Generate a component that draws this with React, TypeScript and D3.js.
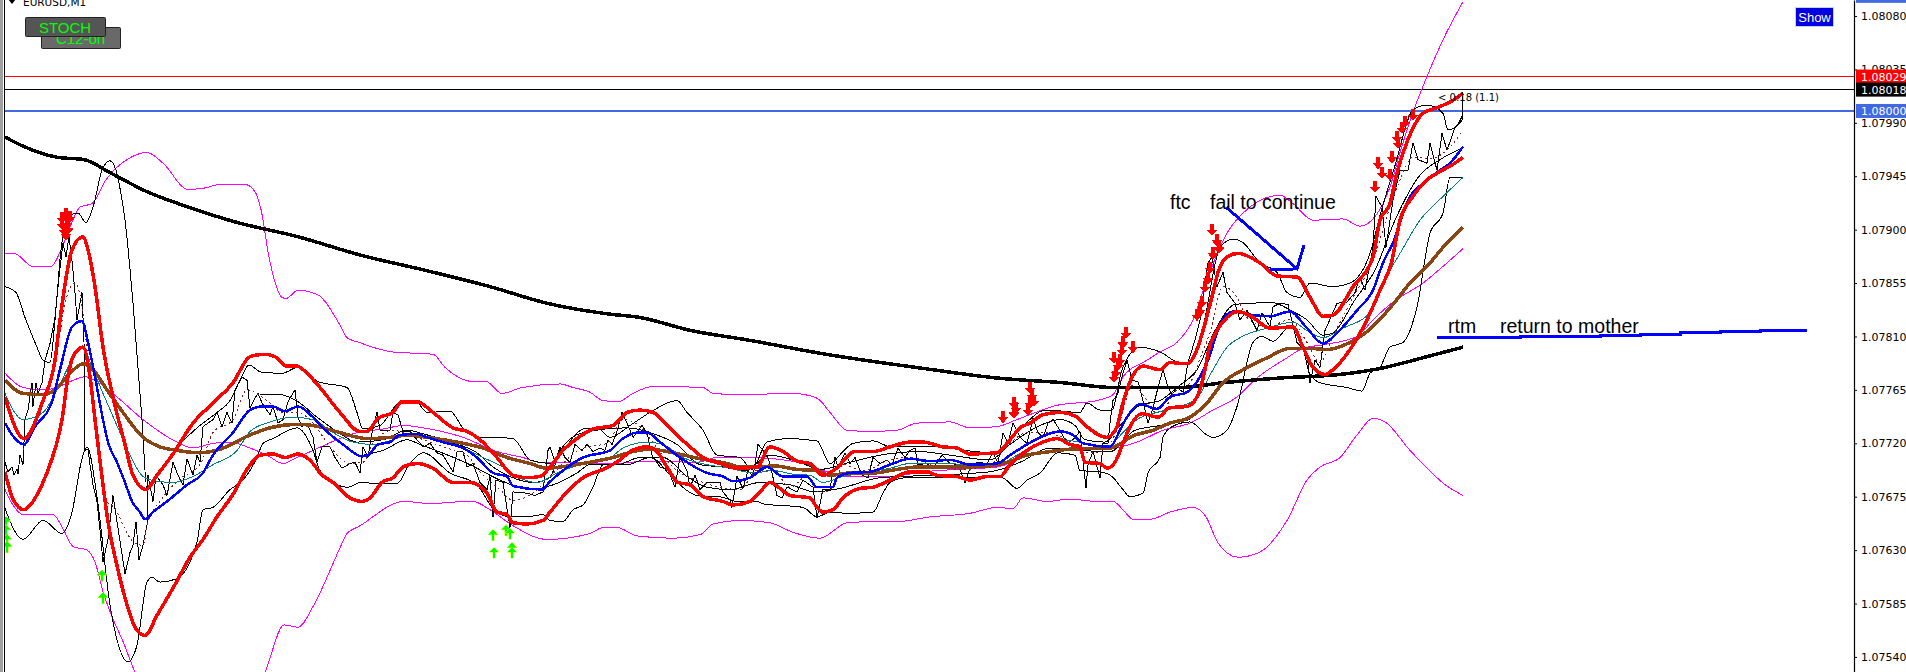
import { useEffect, useRef } from "react";
import * as d3 from "d3";

// every series is [bar, points], bar = minutes from the left edge, points = price above 1.07000 in 1e-5
type Pt = [number, number];

const symbolName = "EURUSD,M1";
const priceTicks = [1.0808, 1.08035, 1.0799, 1.07945, 1.079, 1.07855, 1.0781, 1.07765, 1.0772, 1.07675, 1.0763, 1.07585, 1.0754];
const levelLines = [
  { price: 1.08029, color: "#ff0000", width: 1 },
  { price: 1.08018, color: "#000000", width: 1 },
  { price: 1.08, color: "#4169e1", width: 2 },
];
const priceTags = [
  { price: 1.08097, color: "#4169e1" },
  { price: 1.08029, color: "#ff0000" },
  { price: 1.08018, color: "#000000" },
  { price: 1.08, color: "#4169e1" },
];

const redUp: Pt[] = [[0,759],[19,724],[38,756],[50,790],[55,824],[67,883],[78,894],[83,883],[90,852],[98,801],[108,759],[120,719],[128,693],[141,681],[152,693],[168,711],[188,737],[208,754],[228,771],[245,793],[260,795],[270,793],[282,785],[292,785],[302,779],[315,767],[335,746],[355,730],[362,730],[373,741],[388,746],[397,755],[412,755],[428,746],[448,733],[462,730],[475,723],[492,708],[508,693],[522,691],[535,692],[545,700],[558,714],[572,724],[588,732],[608,735],[622,746],[635,748],[648,746],[668,730],[685,717],[698,708],[715,703],[732,699],[752,700],[765,717],[778,713],[792,705],[805,703],[818,693],[830,698],[850,713],[868,713],[885,717],[905,721],[918,721],[938,717],[952,716],[965,711],[992,712],[1005,723],[1015,733],[1025,737],[1038,744],[1055,746],[1072,742],[1082,734],[1102,725],[1112,734],[1117,751],[1125,772],[1138,785],[1155,782],[1165,788],[1182,787],[1192,799],[1200,821],[1208,847],[1213,864],[1222,877],[1233,880],[1255,872],[1272,861],[1292,860],[1305,843],[1318,827],[1328,828],[1348,852],[1368,877],[1375,908],[1385,922],[1392,948],[1403,976],[1418,998],[1433,1003],[1448,1009],[1458,1015]];

const redLow: Pt[] = [[0,696],[8,673],[19,664],[28,671],[38,687],[47,707],[52,721],[57,740],[63,776],[68,793],[78,801],[85,776],[90,740],[93,719],[98,685],[103,654],[112,617],[122,584],[130,565],[140,558],[152,575],[170,601],[185,624],[198,639],[212,658],[228,677],[242,698],[255,710],[268,711],[280,708],[293,711],[308,703],[315,695],[328,687],[345,674],[357,671],[365,674],[377,687],[388,691],[398,700],[412,703],[428,699],[448,687],[465,687],[482,678],[492,662],[502,660],[508,653],[522,652],[538,655],[545,662],[562,679],[578,691],[598,698],[615,706],[625,713],[642,717],[652,713],[662,700],[673,687],[685,685],[698,675],[718,671],[728,668],[745,671],[755,679],[765,687],[775,682],[785,676],[805,674],[812,666],[818,662],[828,664],[838,674],[855,682],[868,683],[885,689],[905,696],[922,696],[932,693],[952,692],[965,689],[982,692],[995,692],[1005,702],[1022,714],[1035,720],[1052,724],[1065,719],[1075,717],[1080,704],[1095,703],[1102,699],[1110,704],[1118,720],[1125,734],[1137,745],[1153,742],[1165,750],[1182,751],[1192,759],[1200,782],[1203,796],[1212,815],[1222,826],[1233,831],[1248,826],[1265,817],[1288,818],[1298,801],[1308,784],[1320,778],[1328,782],[1345,799],[1362,824],[1375,849],[1387,874],[1395,908],[1408,928],[1422,942],[1433,948],[1448,955],[1458,961]];

const blueMa: Pt[] = [[0,737],[10,724],[19,719],[30,734],[47,755],[55,782],[67,818],[77,823],[83,805],[90,776],[98,740],[103,721],[112,704],[120,687],[127,671],[135,662],[140,656],[148,662],[165,673],[182,685],[197,694],[208,710],[228,729],[245,748],[257,751],[268,751],[280,747],[293,751],[308,742],[318,733],[338,719],[357,709],[363,710],[373,719],[385,721],[395,727],[412,728],[422,725],[442,720],[458,716],[472,708],[488,695],[502,692],[508,684],[538,681],[542,685],[555,695],[578,708],[605,714],[618,724],[632,729],[642,729],[655,721],[675,708],[702,695],[718,692],[728,688],[745,691],[762,700],[778,692],[802,692],[812,683],[828,683],[832,691],[845,695],[865,696],[885,702],[905,707],[925,705],[945,706],[965,702],[992,703],[1005,710],[1022,719],[1038,726],[1055,730],[1068,727],[1078,720],[1105,717],[1115,731],[1122,742],[1135,753],[1152,749],[1165,759],[1182,763],[1192,772],[1203,790],[1215,820],[1228,831],[1248,828],[1265,827],[1285,831],[1302,817],[1318,804],[1332,813],[1352,832],[1368,849],[1378,872],[1388,889],[1405,928],[1418,939],[1433,949],[1445,956],[1458,970]];

const tealMa: Pt[] = [[0,762],[18,740],[38,746],[52,765],[67,790],[78,801],[87,784],[98,762],[115,729],[125,710],[138,692],[152,688],[168,687],[188,692],[208,702],[232,714],[245,730],[265,738],[288,742],[308,740],[328,729],[348,721],[368,719],[388,723],[405,727],[432,723],[458,716],[478,708],[498,700],[512,692],[532,687],[552,695],[575,702],[602,706],[618,716],[642,721],[658,719],[678,708],[702,702],[725,699],[748,695],[768,697],[788,694],[805,693],[818,687],[838,692],[858,695],[885,699],[905,703],[938,703],[965,702],[992,702],[1012,710],[1032,719],[1055,723],[1075,721],[1102,717],[1118,729],[1132,740],[1152,746],[1175,751],[1192,758],[1208,782],[1222,801],[1235,809],[1262,817],[1288,822],[1302,815],[1318,809],[1338,817],[1365,830],[1378,855],[1395,880],[1415,908],[1438,928],[1458,944]];

const brownMa: Pt[] = [[0,773],[18,762],[38,761],[50,765],[65,779],[78,787],[88,782],[102,765],[118,746],[138,725],[155,717],[172,714],[195,712],[215,715],[245,727],[265,733],[292,736],[308,735],[335,729],[362,724],[385,725],[402,727],[422,725],[458,720],[478,716],[502,708],[525,703],[542,699],[555,700],[578,703],[608,708],[628,713],[645,715],[668,712],[695,707],[722,703],[735,700],[755,700],[768,701],[792,698],[812,697],[825,693],[845,695],[868,695],[892,698],[912,700],[952,700],[985,701],[1002,704],[1022,710],[1045,713],[1065,715],[1105,716],[1118,721],[1125,725],[1148,731],[1165,737],[1185,742],[1202,754],[1218,771],[1238,782],[1262,792],[1285,800],[1305,800],[1322,799],[1345,805],[1362,814],[1385,834],[1405,855],[1425,872],[1442,889],[1458,902]];

const longMa: Pt[] = [[0,978],[19,970],[52,961],[79,959],[105,948],[142,932],[187,918],[228,907],[293,894],[358,878],[419,866],[485,852],[542,838],[603,829],[635,826],[686,815],[743,807],[821,795],[919,783],[992,775],[1058,771],[1108,767],[1175,767],[1218,771],[1275,775],[1335,778],[1375,783],[1422,793],[1458,801]];

const magentaUp: Pt[] = [[0,880],[9,880],[28,869],[46,869],[56,883],[64,900],[75,919],[87,922],[101,942],[126,961],[142,965],[158,956],[183,934],[199,935],[215,938],[240,938],[250,932],[256,917],[264,877],[277,843],[281,842],[293,849],[313,845],[334,821],[342,809],[354,805],[387,797],[428,795],[440,784],[468,772],[481,772],[497,762],[517,767],[555,770],[568,767],[585,763],[598,756],[613,755],[628,762],[648,768],[698,767],[708,762],[735,761],[788,762],[812,758],[825,746],[842,731],[865,730],[892,731],[912,737],[945,738],[965,733],[992,734],[1012,740],[1052,752],[1092,756],[1108,761],[1118,776],[1142,790],[1155,797],[1172,805],[1188,824],[1202,858],[1222,897],[1238,914],[1275,929],[1288,922],[1308,908],[1338,909],[1355,903],[1370,911],[1385,936],[1395,965],[1408,999],[1422,1029],[1438,1060],[1458,1092]];

const magentaMid: Pt[] = [[0,779],[18,767],[38,765],[52,767],[68,773],[80,776],[92,772],[112,759],[138,740],[172,721],[188,716],[208,720],[225,721],[245,716],[262,710],[278,703],[292,708],[308,714],[332,723],[352,729],[378,732],[398,735],[425,732],[458,725],[492,713],[518,708],[535,704],[555,704],[588,703],[608,703],[645,705],[692,704],[712,708],[742,708],[768,707],[798,703],[822,696],[845,692],[885,692],[918,696],[952,698],[992,700],[1018,708],[1058,714],[1108,716],[1132,721],[1158,731],[1185,737],[1208,748],[1232,759],[1252,775],[1282,792],[1298,800],[1318,803],[1352,810],[1368,824],[1388,839],[1418,855],[1442,872],[1458,884]];

const magentaLow: Pt[] = [[0,681],[8,668],[18,660],[48,660],[58,648],[68,633],[82,630],[90,620],[98,595],[108,572],[118,553],[130,527],[160,487],[230,487],[260,527],[279,567],[293,565],[309,584],[334,630],[342,644],[354,650],[399,671],[428,669],[440,670],[468,671],[485,664],[509,650],[542,639],[585,644],[598,649],[612,649],[632,642],[668,640],[695,643],[708,652],[735,655],[765,653],[788,645],[815,640],[842,653],[868,654],[892,654],[925,658],[965,661],[992,666],[1008,665],[1018,674],[1042,671],[1065,673],[1092,671],[1108,671],[1118,664],[1128,656],[1145,656],[1165,662],[1188,666],[1201,658],[1213,636],[1233,624],[1254,628],[1282,655],[1302,689],[1315,700],[1335,708],[1352,727],[1368,741],[1380,738],[1405,714],[1442,684],[1458,676]];

const bandUp: Pt[] = [[0,852],[11,847],[20,826],[32,801],[38,790],[45,788],[50,824],[56,883],[64,911],[73,914],[81,906],[89,922],[97,950],[105,958],[111,950],[117,925],[120,908],[128,838],[137,740],[142,681],[155,697],[175,719],[192,733],[212,746],[225,756],[235,773],[244,786],[256,780],[277,779],[293,784],[313,772],[342,767],[352,746],[358,732],[375,735],[395,754],[412,754],[422,746],[445,747],[458,733],[475,725],[488,725],[508,724],[525,706],[545,703],[555,710],[570,727],[578,732],[592,733],[605,725],[625,735],[645,746],[672,756],[682,746],[698,731],[712,710],[735,708],[747,698],[762,721],[782,724],[812,722],[825,703],[838,713],[848,720],[868,722],[886,717],[935,717],[970,713],[992,712],[1017,734],[1041,748],[1075,746],[1082,754],[1095,748],[1107,748],[1117,782],[1135,801],[1155,797],[1175,788],[1185,788],[1198,818],[1215,885],[1228,892],[1238,889],[1255,872],[1272,864],[1282,847],[1295,843],[1305,855],[1328,852],[1345,855],[1365,880],[1375,912],[1390,954],[1408,1001],[1422,1005],[1438,998],[1443,984],[1450,986],[1458,997]];

const bandLow: Pt[] = [[0,665],[18,639],[38,655],[57,644],[67,662],[77,707],[82,717],[92,675],[105,584],[123,536],[132,550],[142,603],[147,607],[155,603],[172,606],[192,637],[198,664],[208,666],[225,681],[238,689],[252,708],[258,720],[268,724],[292,733],[308,714],[315,697],[343,683],[355,687],[375,686],[392,686],[405,703],[418,712],[445,695],[472,685],[488,665],[505,658],[522,658],[538,660],[545,655],[558,654],[568,664],[578,668],[588,683],[598,702],[622,702],[645,708],[672,687],[692,676],[715,675],[732,671],[752,671],[758,669],[798,666],[812,658],[825,662],[842,661],[868,662],[878,678],[885,687],[902,691],[958,691],[997,691],[1012,682],[1022,689],[1035,695],[1053,712],[1070,710],[1075,697],[1095,696],[1107,692],[1117,682],[1125,675],[1138,678],[1143,695],[1155,708],[1158,725],[1167,734],[1185,738],[1202,727],[1208,725],[1222,731],[1232,751],[1248,805],[1257,810],[1268,806],[1285,818],[1295,810],[1305,778],[1315,771],[1342,767],[1357,764],[1365,779],[1375,784],[1385,801],[1398,805],[1412,835],[1425,897],[1438,914],[1445,944],[1457,944]];

const innerUp: Pt[] = [[255,761],[275,761],[293,755],[312,742],[332,730],[352,721],[378,723],[402,731],[418,728],[445,721],[472,712],[488,700],[505,692],[528,687],[545,691],[555,714],[578,729],[622,733],[652,727],[672,719],[695,702],[718,700],[740,697],[765,710],[795,704],[815,698],[845,704],[875,710],[915,713],[945,710],[985,706],[1005,719],[1035,735],[1055,740],[1070,735],[1080,723],[1100,721],[1115,735],[1135,752],[1155,756],[1175,769],[1192,782],[1210,815],[1230,837],[1248,838],[1265,839],[1288,831],[1302,824],[1318,811],[1328,813],[1350,841],[1370,866],[1390,908],[1415,946],[1435,959],[1458,969]];

const innerLow: Pt[] = [[358,710],[378,714],[402,723],[415,719],[465,702],[495,689],[525,681],[548,685],[572,695],[585,702],[612,702],[635,708],[658,708],[682,692],[702,683],[725,681],[755,687],[785,685],[810,679],[835,682],[875,691],[925,693],[985,696],[1015,704],[1045,716],[1075,714],[1105,713],[1130,731],[1155,735],[1185,740]];

const dottedMa: Pt[] = [[18,714],[38,756],[50,790],[63,847],[70,855],[78,830],[85,773],[92,723],[100,673],[110,665],[120,648],[128,637],[138,634],[143,654],[155,671],[175,690],[195,702],[208,729],[228,740],[242,765],[262,756],[278,746],[292,746],[308,737],[325,717],[345,703],[358,704],[368,720],[388,731],[405,727],[425,721],[442,716],[462,710],[475,696],[495,681],[508,672],[528,678],[545,692],[578,716],[602,720],[618,740],[635,734],[652,716],[672,697],[692,689],[715,683],[735,681],[752,697],[768,697],[785,683],[802,692],[815,678],[828,683],[838,702],[858,697],[885,706],[905,708],[925,702],[958,698],[985,702],[1005,720],[1022,729],[1038,729],[1058,725],[1085,712],[1098,713],[1112,731],[1128,769],[1142,756],[1155,742],[1168,762],[1185,771],[1197,796],[1205,813],[1218,852],[1232,843],[1242,826],[1262,818],[1285,824],[1302,805],[1315,788],[1328,810],[1348,843],[1368,874],[1385,919],[1395,942],[1408,961],[1425,960],[1442,967],[1458,984]];

const closeLine: Pt[] = [[0,704],[3,696],[7,700],[9,693],[12,698],[13,694],[15,710],[18,702],[20,740],[23,748],[27,771],[28,751],[31,771],[33,762],[37,771],[40,790],[45,804],[50,826],[54,860],[58,889],[61,877],[64,894],[67,874],[70,847],[72,824],[77,847],[79,805],[80,714],[83,715],[85,702],[88,685],[92,671],[95,647],[98,620],[103,639],[108,676],[112,654],[120,610],[125,628],[128,634],[131,654],[134,622],[138,634],[142,651],[143,693],[148,671],[151,693],[158,685],[162,676],[168,704],[173,693],[178,685],[182,707],[188,693],[192,710],[195,704],[198,734],[208,740],[212,746],[217,734],[222,746],[227,737],[230,765],[237,776],[242,773],[245,750],[250,758],[253,762],[257,754],[265,744],[268,751],[273,737],[278,740],[283,755],[290,765],[293,742],[297,734],[302,737],[308,725],[312,704],[317,717],[325,717],[330,708],[337,699],[345,703],[350,704],[355,695],[358,717],[363,708],[367,729],[372,746],[375,731],[385,731],[388,746],[393,744],[398,730],[405,730],[412,723],[418,717],[425,720],[432,712],[438,710],[448,696],[452,713],[458,713],[462,700],[468,703],[475,687],[482,681],[485,692],[488,658],[491,689],[498,687],[502,665],[505,649],[508,679],[522,678],[530,676],[538,679],[543,714],[545,717],[550,704],[555,717],[560,708],[565,704],[570,719],[577,714],[582,719],[588,713],[595,716],[600,714],[603,723],[607,719],[612,730],[617,746],[623,735],[628,725],[637,735],[642,729],[647,710],[655,700],[663,698],[670,683],[675,708],[682,697],[685,683],[690,693],[695,681],[702,687],[715,687],[718,679],[725,672],[727,666],[732,692],[738,682],[743,697],[748,692],[753,719],[758,714],[763,708],[767,695],[772,676],[777,674],[782,683],[792,679],[798,689],[808,683],[812,657],[818,681],[825,681],[830,708],[833,700],[840,712],[845,703],[850,708],[857,693],[863,691],[868,708],[875,703],[882,706],[887,702],[893,716],[900,708],[905,714],[910,716],[913,702],[922,703],[928,699],[937,710],[945,703],[953,702],[960,687],[965,699],[972,704],[982,703],[988,712],[993,703],[998,729],[1003,720],[1008,737],[1015,725],[1022,720],[1028,741],[1033,729],[1038,725],[1043,737],[1048,740],[1055,731],[1062,720],[1068,723],[1075,730],[1078,706],[1081,682],[1083,702],[1088,713],[1095,691],[1098,720],[1103,720],[1105,737],[1108,756],[1113,762],[1117,776],[1122,790],[1127,773],[1133,772],[1138,756],[1143,737],[1148,750],[1153,767],[1158,782],[1163,767],[1167,761],[1172,767],[1178,763],[1183,788],[1190,807],[1195,824],[1199,849],[1203,872],[1207,877],[1212,852],[1218,864],[1222,847],[1230,838],[1235,824],[1242,832],[1252,815],[1257,830],[1265,818],[1268,835],[1275,838],[1283,837],[1292,805],[1302,796],[1305,771],[1310,790],[1315,784],[1320,815],[1332,838],[1342,839],[1350,847],[1355,860],[1360,849],[1368,885],[1371,928],[1377,919],[1381,885],[1388,925],[1395,950],[1403,950],[1408,973],[1413,959],[1422,956],[1425,973],[1432,950],[1437,981],[1442,967],[1450,986],[1457,992],[1458,1016]];

const sellArrows: Pt[] = [[57,910],[61,913],[65,911],[57,905],[62,906],[59,900],[63,901],[61,896],[998,742],[1009,754],[1009,746],[1011,750],[1023,748],[1025,767],[1027,761],[1029,756],[1025,754],[1121,813],[1118,805],[1117,799],[1128,801],[1109,792],[1113,786],[1111,780],[1109,776],[1115,790],[1207,900],[1212,891],[1208,880],[1214,885],[1205,868],[1200,852],[1203,859],[1197,839],[1192,828],[1195,832],[1370,936],[1373,956],[1377,948],[1385,946],[1387,961],[1392,978],[1393,973],[1397,986],[1400,991],[1408,997]];
const buyArrows: Pt[] = [[1,654],[1,647],[2,639],[2,633],[97,609],[98,590],[488,643],[501,647],[505,644],[489,628],[507,632],[507,628]];

// hand drawn trend lines and their notes
const ftcArrow: Pt[] = [[1221,919],[1292,867],[1299,887]];
const ftcTail: Pt[] = [[1265,866],[1292,867]];
const rtmLine: Pt[] = [[1432,809],[1515,810],[1595,811],[1635,812],[1675,813],[1715,814],[1755,815],[1800,816]];

const bandDefs: { data: Pt[]; color: string; width: number; dash?: string; curve?: boolean }[] = [
  { data: magentaUp, color: "#ff00ff", width: 1 },
  { data: magentaMid, color: "#ff00ff", width: 1 },
  { data: magentaLow, color: "#ff00ff", width: 1 },
  { data: bandUp, color: "#000000", width: 1 },
  { data: bandLow, color: "#000000", width: 1 },
  { data: innerUp, color: "#000000", width: 1 },
  { data: innerLow, color: "#000000", width: 1 },
  { data: closeLine, color: "#000000", width: 1, curve: false },
  { data: dottedMa, color: "#8b1a1a", width: 1, dash: "2 3" },
  { data: tealMa, color: "#008080", width: 1 },
  { data: longMa, color: "#000000", width: 3.5 },
  { data: brownMa, color: "#8b4513", width: 3.5 },
  { data: blueMa, color: "#0000ff", width: 2.5 },
  { data: redUp, color: "#ff0000", width: 3.5 },
  { data: redLow, color: "#ff0000", width: 3.5 },
];

const WIDTH = 1906;
const HEIGHT = 672;
const AXIS_X = 1854;

export default function App() {
  const svgRef = useRef<SVGSVGElement>(null);

  useEffect(() => {
    if (!svgRef.current) return;
    document.body.style.margin = "0";

    const svg = d3.select(svgRef.current);
    svg.selectAll("*").remove();

    const x = d3.scaleLinear().domain([0, 1849]).range([5, AXIS_X]);
    const y = d3.scaleLinear().domain([1.075273, 1.080935]).range([HEIGHT, 0]);
    const price = (p: number) => 1.07 + p / 1e5;

    const smooth = d3.line<Pt>().x((d) => x(d[0])).y((d) => y(price(d[1]))).curve(d3.curveMonotoneX);
    const straight = d3.line<Pt>().x((d) => x(d[0])).y((d) => y(price(d[1])));
    const stepped = d3.line<Pt>().x((d) => x(d[0])).y((d) => y(price(d[1]))).curve(d3.curveStepAfter);

    svg.append("rect").attr("width", WIDTH).attr("height", HEIGHT).attr("fill", "#fff");

    // window frame on the left
    svg.append("rect").attr("width", 3).attr("height", HEIGHT).attr("fill", "#a0a0a0");
    svg.append("line").attr("x1", 4.5).attr("x2", 4.5).attr("y2", HEIGHT).attr("stroke", "#000");

    svg.append("clipPath").attr("id", "plot").append("rect").attr("x", 5).attr("width", AXIS_X - 5).attr("height", HEIGHT);
    const g = svg.append("g").attr("clip-path", "url(#plot)").attr("shape-rendering", "crispEdges");

    // Levels
    levelLines.forEach((l) => {
      g.append("line")
        .attr("x1", 5)
        .attr("x2", AXIS_X)
        .attr("y1", y(l.price))
        .attr("y2", y(l.price))
        .attr("stroke", l.color)
        .attr("stroke-width", l.width);
    });

    // Indicator lines
    bandDefs.forEach((b) => {
      g.append("path")
        .attr("d", (b.curve === false ? straight : smooth)(b.data))
        .attr("fill", "none")
        .attr("stroke", b.color)
        .attr("stroke-width", b.width)
        .attr("stroke-dasharray", b.dash ?? null)
        .attr("stroke-linejoin", "round");
    });

    // Signal arrows
    g.selectAll("path.sell")
      .data(sellArrows)
      .join("path")
      .attr("class", "sell")
      .attr("d", "M-2,-6L2,-6L2,0L5.5,0L0,6L-5.5,0L-2,0Z")
      .attr("transform", (d) => `translate(${x(d[0])},${y(price(d[1]))})`)
      .attr("fill", "#ff0000");

    g.selectAll("path.buy")
      .data(buyArrows)
      .join("path")
      .attr("class", "buy")
      .attr("d", "M-1.2,6L1.2,6L1.2,0L5,0L0,-5.5L-5,0L-1.2,0Z")
      .attr("transform", (d) => `translate(${x(d[0])},${y(price(d[1]))})`)
      .attr("fill", "#00ff00")
      .attr("stroke", "#d8ff00")
      .attr("stroke-width", 0.5);

    // Hand drawn notes
    [ftcArrow, ftcTail].forEach((d) => {
      g.append("path").attr("d", straight(d)).attr("fill", "none").attr("stroke", "#0000ff").attr("stroke-width", 3);
    });
    g.append("path").attr("d", stepped(rtmLine)).attr("fill", "none").attr("stroke", "#0000ff").attr("stroke-width", 3);

    const note = (label: string, px: number, py: number) =>
      svg
        .append("text")
        .attr("x", px)
        .attr("y", py)
        .style("font-family", "'Liberation Sans', Arial, sans-serif")
        .style("font-size", "19.5px")
        .style("fill", "#000")
        .text(label);
    note("ftc", 1170, 209);
    note("fail to continue", 1210, 209);
    note("rtm", 1448, 333);
    note("return to mother", 1500, 333);

    svg
      .append("text")
      .attr("x", 1438)
      .attr("y", 101)
      .style("font-family", "'DejaVu Sans', sans-serif")
      .style("font-size", "10px")
      .style("fill", "#000")
      .text("< 0:18 (1.1)");

    // Price axis
    const axis = svg
      .append("g")
      .attr("transform", `translate(${AXIS_X},0)`)
      .call(
        d3
          .axisRight(y)
          .tickValues(priceTicks)
          .tickFormat((d) => d3.format(".5f")(d as number))
          .tickSize(3)
          .tickSizeOuter(0)
          .tickPadding(4)
      );
    axis.selectAll("text").style("font-family", "'DejaVu Sans', sans-serif").style("font-size", "11px").style("fill", "#000");
    axis.selectAll("path,line").attr("stroke", "#000");
    axis.select(".domain").attr("stroke-width", 1.2);

    priceTags.forEach((t) => {
      const cy = y(t.price);
      svg.append("rect").attr("x", AXIS_X + 2).attr("y", cy - 7).attr("width", WIDTH - AXIS_X).attr("height", 14).attr("fill", t.color);
      svg
        .append("text")
        .attr("x", AXIS_X + 7)
        .attr("y", cy + 4)
        .style("font-family", "'DejaVu Sans', sans-serif")
        .style("font-size", "11px")
        .style("fill", "#fff")
        .text(t.price.toFixed(5));
    });

    // Chart header
    svg.append("path").attr("d", "M8,-1L16,-1L12,4Z").attr("fill", "#000");
    svg
      .append("text")
      .attr("x", 23)
      .attr("y", 6)
      .style("font-family", "'DejaVu Sans', sans-serif")
      .style("font-size", "10.5px")
      .style("fill", "#000")
      .text(symbolName);

    const button = (label: string, bx: number, by: number, w: number, h: number, fill: string, baseline: number) => {
      svg.append("rect").attr("x", bx + 0.5).attr("y", by + 0.5).attr("width", w).attr("height", h).attr("rx", 1).attr("fill", fill).attr("stroke", "#222");
      svg
        .append("text")
        .attr("x", bx + w / 2)
        .attr("y", baseline)
        .attr("text-anchor", "middle")
        .style("font-family", "'Liberation Sans', Arial, sans-serif")
        .style("font-size", "15px")
        .style("fill", "#00ff00")
        .text(label);
    };
    button("C12-on", 41, 27, 79, 21, "#696969", 44);
    button("STOCH", 25, 17, 80, 19, "#555555", 33);

    svg.append("rect").attr("x", 1795.5).attr("y", 7.5).attr("width", 38).attr("height", 19).attr("fill", "#0000e0").attr("stroke", "#c8d0f0");
    svg
      .append("text")
      .attr("x", 1814.5)
      .attr("y", 22)
      .attr("text-anchor", "middle")
      .style("font-family", "'Liberation Sans', Arial, sans-serif")
      .style("font-size", "13px")
      .style("fill", "#fff")
      .text("Show");
  }, []);

  return <svg ref={svgRef} width={WIDTH} height={HEIGHT} style={{ display: "block" }} />;
}
